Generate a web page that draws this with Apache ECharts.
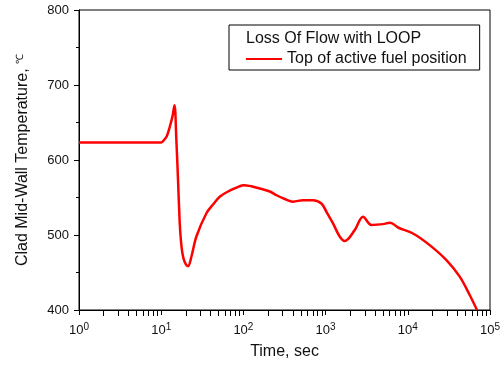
<!DOCTYPE html>
<html>
<head>
<meta charset="utf-8">
<script src="https://cdn.jsdelivr.net/npm/echarts@6/dist/echarts.min.js"></script>
<style>
  html, body { margin: 0; padding: 0; background: #fff; }
  #chart { width: 502px; height: 365px; }
</style>
</head>
<body>
<div id="chart"></div>
<script>
// time in seconds, clad mid-wall temperature in deg C
var times = [1, 5, 10, 10.3, 11.6, 12.7, 13.7, 14.5, 15.3, 16, 16.8, 17.4, 18.1, 19.3, 21.2, 23.3, 26.8,
    35.5, 43, 51.5, 65, 90, 100, 125, 158, 209, 253, 318, 401, 531, 703, 889, 1023, 1231, 1484, 1707,
    2260, 2852, 3607, 4991, 6100, 7600, 11570, 18460, 29500, 42800, 56600, 69500];
var temps = [623.5, 623.5, 623.5, 624, 631, 644, 658, 673, 626, 575, 516, 492, 476, 464, 458.5, 471, 498,
    529, 541, 551, 558, 565, 566.5, 565, 562, 558, 553, 548, 544.5, 546.5, 546.5, 542, 531, 515.5, 498, 492,
    506.5, 524.5, 513.5, 514.5, 516.5, 510, 502, 486.5, 466.5, 444.5, 420, 400];
var seriesName = 'Top of active fuel position';
var legendTitle = 'Loss Of Flow with LOOP';

var points = [];
for (var i = 0; i < times.length; i++) {
    points.push([times[i], temps[i]]);
}

var font = 'Liberation Sans, Arial, sans-serif';
var myChart = echarts.init(document.getElementById('chart'));
var option = {
    backgroundColor: '#fff',
    animation: false,
    textStyle: { fontFamily: font, color: '#111' },
    title: {
        text: legendTitle,
        left: 246,
        top: 31,
        padding: 0,
        textStyle: { fontFamily: font, fontSize: 16, fontWeight: 'normal', color: '#111' }
    },
    legend: {
        left: 229,
        top: 25,
        orient: 'vertical',
        padding: [26, 13, 3, 17],
        borderColor: '#000',
        borderWidth: 1,
        borderRadius: 0,
        itemWidth: 36,
        itemHeight: 14,
        data: [{ name: seriesName, icon: 'path://M0,6 L36,6 L36,8 L0,8 Z' }],
        textStyle: { fontFamily: font, fontSize: 16, color: '#111' }
    },
    grid: {
        left: 79,
        right: 12,
        top: 10,
        bottom: 55,
        outerBoundsMode: 'none',
        show: true,
        borderColor: '#000',
        borderWidth: 1
    },
    xAxis: {
        type: 'log',
        min: 1,
        max: 100000,
        name: 'Time, sec',
        nameLocation: 'middle',
        nameGap: 34,
        nameTextStyle: { fontFamily: font, fontSize: 16, color: '#111' },
        axisLine: { lineStyle: { color: '#000', width: 1 } },
        axisTick: { length: 5, lineStyle: { color: '#000' } },
        minorTick: { show: true, splitNumber: 9, length: 6, lineStyle: { color: '#000', width: 1 } },
        splitLine: { show: false },
        axisLabel: {
            margin: 12,
            fontFamily: font,
            fontSize: 13,
            color: '#111',
            formatter: function (v) {
                return '10{s|' + Math.round(Math.log10(v)) + '}';
            },
            rich: {
                s: { fontSize: 10, fontFamily: font, color: '#111', padding: [0, 0, 7, 0] }
            }
        }
    },
    yAxis: {
        type: 'value',
        min: 400,
        max: 800,
        interval: 100,
        name: 'Clad Mid-Wall Temperature, {c|℃}',
        nameLocation: 'middle',
        nameGap: 48,
        nameTextStyle: {
            fontFamily: font,
            fontSize: 16,
            color: '#111',
            rich: { c: { fontSize: 10, fontFamily: font, color: '#111', padding: [0, 0, 6, 0] } }
        },
        axisLine: { show: true, lineStyle: { color: '#000', width: 1 } },
        axisTick: { show: true, length: 5, lineStyle: { color: '#000' } },
        minorTick: { show: true, splitNumber: 2, length: 3, lineStyle: { color: '#000' } },
        splitLine: { show: false },
        axisLabel: { margin: 10, fontFamily: font, fontSize: 13, color: '#111' }
    },
    series: [{
        name: seriesName,
        type: 'line',
        data: points,
        showSymbol: false,
        smooth: 0.35,
        lineStyle: { color: '#ff0000', width: 2.5 },
        itemStyle: { color: '#ff0000' },
        z: 3
    }]
};
myChart.setOption(option);
</script>
</body>
</html>
